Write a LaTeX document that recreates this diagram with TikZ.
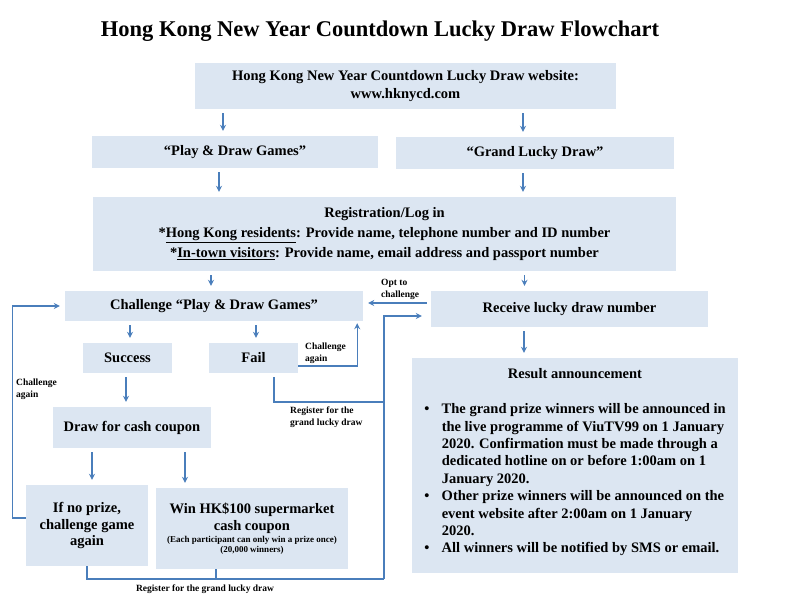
\documentclass[tikz,border=0pt]{standalone}
\usepackage{fontspec}
\setmainfont{Liberation Serif}
\usepackage{tikz}
\usetikzlibrary{arrows.meta}
\definecolor{boxblue}{HTML}{DCE6F2}
\definecolor{lineblue}{HTML}{4A7EBB}
\tikzstyle{box} = [rectangle, fill=boxblue, inner sep=0pt, align=center, font=\bfseries\fontsize{14.5}{18}\selectfont]
\tikzstyle{panel} = [rectangle, fill=boxblue, inner sep=0pt, font=\bfseries\fontsize{14.5}{17.4}\selectfont]
\tikzstyle{note} = [inner sep=0pt, align=left, font=\bfseries\fontsize{9.5}{12}\selectfont]
\tikzstyle{arrow} = [line width=1.2pt, draw=lineblue, -{Stealth[length=6pt,width=6pt]}, shorten <=4pt, shorten >=5pt]
\tikzstyle{link} = [line width=1.2pt, draw=lineblue]
\newcommand{\smalltxt}{\fontsize{9}{11}\selectfont}

\begin{document}
\begin{tikzpicture}[x=1pt, y=-1pt]
		\useasboundingbox (0,0) rectangle (800,600);
		\node (title) [anchor=base, font=\bfseries\fontsize{22.5}{27}\selectfont] at (380,36) {Hong Kong New Year Countdown Lucky Draw Flowchart};
		
		\node (web) [box, minimum width=421pt, minimum height=46pt] at (405.5,86) {Hong Kong New Year Countdown Lucky Draw website:\\www.hknycd.com};
		\node (pdg) [box, minimum width=286pt, minimum height=32pt] at (235,152) {“Play \& Draw Games”};
		\node (gld) [box, minimum width=278pt, minimum height=32pt] at (535,153) {“Grand Lucky Draw”};
		\node (reg) [box, minimum width=583pt, minimum height=74pt, font=\bfseries\fontsize{14.5}{20}\selectfont] at (384.5,234) {Registration/Log in\\{*}\underline{Hong Kong residents}: Provide name, telephone number and ID number\\{*}\underline{In-town visitors}: Provide name, email address and passport number};
		\node (chal) [box, minimum width=298pt, minimum height=30pt] at (214,306) {Challenge “Play \& Draw Games”};
		\node (recv) [box, minimum width=277pt, minimum height=36pt] at (569.5,309) {Receive lucky draw number};
		\node (succ) [box, minimum width=89pt, minimum height=30pt] at (127.5,358) {Success};
		\node (fail) [box, minimum width=89pt, minimum height=30pt] at (253.5,358) {Fail};
		\node (drawcc) [box, minimum width=158pt, minimum height=41pt] at (132,427.5) {Draw for cash coupon};
		\node (noprize) [box, minimum width=122pt, minimum height=81pt, font=\bfseries\fontsize{14.5}{16.5}\selectfont] at (87,525.5) {If no prize,\\challenge game\\again};
		\node (win) [box, minimum width=192pt, minimum height=81pt, font=\bfseries\fontsize{14.5}{17}\selectfont] at (252,528.5) {Win HK\$100 supermarket\\cash coupon\\[-5pt]{\smalltxt (Each participant can only win a prize once)}\\[-7pt]{\smalltxt (20,000 winners)}};
		\node (result) [panel, minimum width=326pt, minimum height=215pt] at (575,465.5) {\begin{tabular}{@{}p{17.5pt}@{}l@{}}
			\multicolumn{2}{c}{Result announcement}\\[17.4pt]
			\textbullet & The grand prize winners will be announced in\\
			& the live programme of ViuTV99 on 1 January\\
			& 2020. Confirmation must be made through a\\
			& dedicated hotline on or before 1:00am on 1\\
			& January 2020.\\
			\textbullet & Other prize winners will be announced on the\\
			& event website after 2:00am on 1 January\\
			& 2020.\\
			\textbullet & All winners will be notified by SMS or email.\\[6pt]
			\end{tabular}};
		
		\coordinate (bend) at (384,579);
		\coordinate (join) at (384,402);
		
		\draw [arrow] ([xshift=-12pt]pdg.north |- web.south) -- ([xshift=-12pt]pdg.north);
		\draw [arrow] ([xshift=-12pt]gld.north |- web.south) -- ([xshift=-12pt]gld.north);
		\draw [arrow] ([xshift=-16pt]pdg.south) -- ([xshift=-16pt]pdg.south |- reg.north);
		\draw [arrow] ([xshift=-12pt]gld.south) -- ([xshift=-12pt]gld.south |- reg.north);
		\draw [arrow] ([xshift=-3pt]chal.north |- reg.south) -- ([xshift=-3pt]chal.north);
		\draw [arrow] ([xshift=-45pt]recv.north |- reg.south) -- ([xshift=-45pt]recv.north);
		
		\draw [arrow] ([yshift=6pt]recv.west) -- ([yshift=6pt]recv.west -| chal.east);
		\node (optlbl) [note, anchor=west] at (381,289) {Opt to\\challenge};
		
		\draw [arrow] ([xshift=2.5pt]succ.north |- chal.south) -- ([xshift=2.5pt]succ.north);
		\draw [arrow] ([xshift=2.5pt]fail.north |- chal.south) -- ([xshift=2.5pt]fail.north);
		\draw [arrow, shorten <=0pt, shorten >=2pt] ([yshift=-8pt]fail.east) -| ([xshift=-6pt]chal.south east);
		\node (againlbl) [note, anchor=west] at (305,353) {Challenge\\again};
		
		\draw [link, shorten <=4pt] ([xshift=20.5pt]fail.south) |- (join);
		\node (reglbl) [note, anchor=west] at (290,417.5) {Register for the\\grand lucky draw};
		
		\draw [arrow] ([xshift=-1.5pt]succ.south) -- ([xshift=-1.5pt]succ.south |- drawcc.north);
		\draw [arrow] ([xshift=5pt]noprize.north |- drawcc.south) -- ([xshift=5pt]noprize.north);
		\draw [arrow] ([xshift=-67pt]win.north |- drawcc.south) -- ([xshift=-67pt]win.north);
		
		\draw [arrow, shorten <=0pt] ([yshift=7.5pt]noprize.west) -- ++(-13,0) |- (chal.west);
		\node (looplbl) [note, anchor=west] at (16,389) {Challenge\\again};
		
		\draw [link] (noprize.south) |- (bend);
		\draw [link] ([xshift=-36pt]win.south) -- ([xshift=-36pt]win.south |- bend);
		\draw [arrow, shorten <=0pt, shorten >=9pt] (bend) |- ([yshift=-7pt]recv.west);
		\node (reglbl2) [note] at (205,589) {Register for the grand lucky draw};
		
		\draw [arrow] ([xshift=-45.5pt]recv.south) -- ([xshift=-45.5pt]recv.south |- result.north);
\end{tikzpicture}
\end{document}
